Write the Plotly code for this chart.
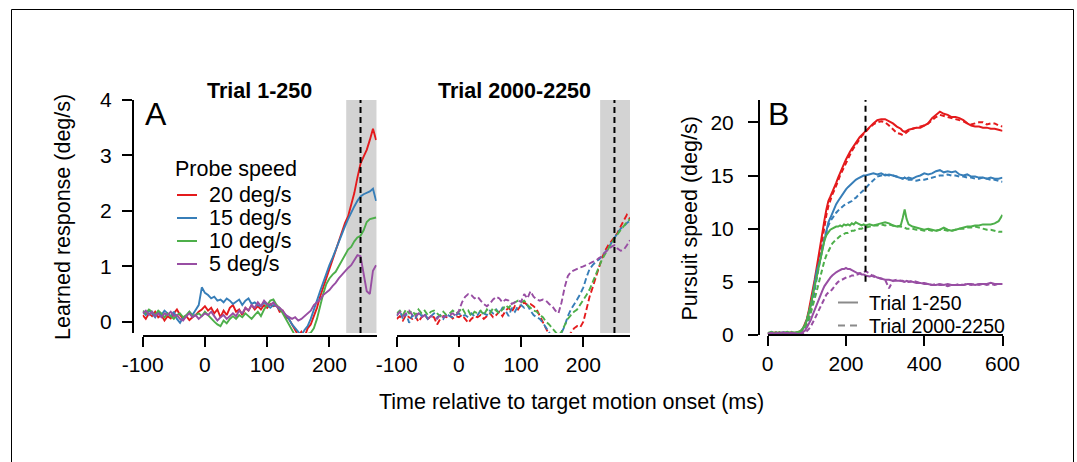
import plotly.graph_objects as go

W, H = 1077, 462
FONT = "Liberation Sans, Arial, Helvetica, sans-serif"

# ---------------- data ----------------
speeds = ["20 deg/s", "15 deg/s", "10 deg/s", "5 deg/s"]
colors = ["#E41A1C", "#377EB8", "#4DAF4A", "#984EA3"]

# Panel A time base (ms), -100 .. 275 step 5
tA = list(range(-100, 280, 5))

# Trial 1-250 (solid)
a1_red = [0.12, 0.05, 0.15, 0.10, 0.18, 0.08, 0.12, 0.02, 0.10, 0.06,
          0.15, 0.22, 0.12, 0.05, 0.10, 0.03, 0.08, 0.12, 0.18, 0.22,
          0.28, 0.20, 0.25, 0.15, 0.22, 0.08, 0.20, 0.12, 0.25, 0.30,
          0.18, 0.22, 0.12, 0.25, 0.20, 0.30, 0.22, 0.28, 0.22, 0.30,
          0.25, 0.32, 0.28, 0.30, 0.18, 0.20, 0.08, 0.05, -0.05, -0.15,
          -0.25, -0.18, -0.28, -0.12, -0.05, 0.10, 0.25, 0.45, 0.62, 0.80,
          0.95, 1.12, 1.30, 1.48, 1.62, 1.78, 1.90, 2.10, 2.32, 2.60,
          2.85, 2.98, 3.10, 3.28, 3.48, 3.28]
a1_blue = [0.18, 0.12, 0.20, 0.15, 0.08, 0.18, 0.12, 0.20, 0.15, 0.10,
           0.18, 0.05, -0.02, 0.08, 0.10, 0.18, 0.12, 0.20, 0.30, 0.62,
           0.52, 0.48, 0.42, 0.45, 0.38, 0.40, 0.35, 0.42, 0.38, 0.32,
           0.36, 0.40, 0.30, 0.38, 0.42, 0.32, 0.35, 0.30, 0.28, 0.35,
           0.30, 0.25, 0.30, 0.28, 0.22, 0.18, 0.12, 0.05, -0.05, -0.12,
           -0.18, -0.25, -0.15, -0.08, 0.05, 0.20, 0.38, 0.55, 0.72, 0.88,
           1.02, 1.15, 1.30, 1.45, 1.60, 1.72, 1.85, 1.98, 2.08, 2.18,
           2.26, 2.30, 2.32, 2.35, 2.40, 2.18]
a1_green = [0.20, 0.15, 0.22, 0.18, 0.12, 0.20, 0.15, 0.08, 0.15, 0.10,
            0.05, 0.12, 0.15, 0.08, 0.12, 0.18, 0.10, 0.12, 0.15, 0.10,
            0.18, 0.12, 0.05, 0.00, -0.05, -0.08, 0.02, -0.03, 0.05, 0.10,
            0.05, 0.12, 0.08, 0.15, 0.10, 0.05, 0.12, 0.18, 0.10, 0.22,
            0.30, 0.38, 0.40, 0.30, 0.25, 0.15, 0.05, -0.05, -0.15, -0.25,
            -0.30, -0.28, -0.30, -0.22, -0.20, -0.12, 0.05, 0.28, 0.50, 0.68,
            0.78, 0.85, 0.90, 1.00, 1.10, 1.20, 1.30, 1.35, 1.45, 1.52,
            1.55, 1.65, 1.80, 1.85, 1.86, 1.88]
a1_purple = [0.15, 0.20, 0.12, 0.18, 0.10, 0.15, 0.08, 0.15, 0.12, 0.18,
             0.10, 0.12, 0.05, 0.02, 0.10, 0.15, 0.08, 0.12, 0.05, 0.10,
             0.15, 0.12, 0.18, 0.10, 0.02, 0.08, 0.12, 0.05, 0.10, 0.15,
             0.10, 0.20, 0.15, 0.25, 0.20, 0.30, 0.25, 0.35, 0.28, 0.38,
             0.32, 0.30, 0.35, 0.28, 0.25, 0.20, 0.12, 0.08, 0.05, 0.08,
             0.02, 0.05, 0.10, 0.15, 0.20, 0.30, 0.35, 0.40, 0.48, 0.52,
             0.57, 0.64, 0.70, 0.78, 0.85, 0.92, 0.97, 1.02, 1.10, 1.20,
             1.18, 0.88, 0.55, 0.50, 0.92, 1.02]

# Trial 2000-2250 (dashed)
a2_red = [0.05, 0.10, 0.02, 0.12, 0.08, 0.05, 0.10, 0.00, 0.08, 0.12,
          0.05, 0.10, 0.08, -0.05, 0.05, 0.10, 0.08, 0.12, 0.06, 0.10,
          0.08, 0.12, 0.05, -0.02, 0.05, 0.10, 0.08, 0.12, 0.05, 0.10,
          0.15, 0.08, 0.12, 0.18, 0.10, 0.20, 0.25, 0.18, 0.28, 0.22,
          0.30, 0.35, 0.30, 0.32, 0.28, 0.22, 0.10, -0.02, -0.15, -0.25,
          -0.35, -0.40, -0.40, -0.38, -0.32, -0.25, -0.20, -0.12, -0.08, -0.10,
          0.00, 0.22, 0.45, 0.62, 0.80, 0.98, 1.15, 1.28, 1.38, 1.45,
          1.52, 1.60, 1.72, 1.82, 1.93, 1.85]
a2_blue = [0.10, 0.20, 0.05, 0.15, -0.02, 0.12, 0.05, 0.18, 0.10, 0.15,
           0.05, 0.10, 0.15, 0.08, 0.12, 0.05, 0.15, 0.10, 0.08, 0.12,
           0.15, 0.10, 0.12, 0.08, 0.15, 0.10, 0.12, 0.20, 0.15, 0.12,
           0.20, 0.15, 0.22, 0.15, 0.25, 0.20, 0.10, 0.25, 0.18, 0.28,
           0.30, 0.25, 0.30, 0.20, 0.12, 0.08, 0.05, -0.02, -0.10, -0.20,
           -0.28, -0.30, -0.25, -0.20, -0.08, 0.10, 0.22, 0.30, 0.40, 0.50,
           0.62, 0.80, 0.95, 1.02, 1.08, 1.12, 1.18, 1.25, 1.32, 1.42,
           1.52, 1.60, 1.68, 1.72, 1.78, 1.82]
a2_green = [0.15, 0.20, 0.12, 0.22, 0.15, 0.20, 0.12, 0.22, 0.15, 0.20,
            0.12, 0.18, 0.20, 0.15, 0.10, 0.18, 0.12, 0.15, 0.20, 0.15,
            0.18, 0.25, 0.15, 0.20, 0.10, 0.18, 0.15, 0.20, 0.12, 0.22,
            0.15, 0.25, 0.20, 0.15, 0.22, 0.30, 0.25, 0.32, 0.35, 0.38,
            0.35, 0.38, 0.30, 0.25, 0.20, 0.18, 0.12, 0.08, 0.00, -0.05,
            -0.12, -0.20, -0.25, -0.18, -0.05, 0.05, 0.12, 0.18, 0.22, 0.30,
            0.40, 0.48, 0.58, 0.72, 0.86, 1.00, 1.12, 1.22, 1.32, 1.40,
            1.50, 1.58, 1.66, 1.72, 1.80, 1.85]
a2_purple = [0.12, 0.18, 0.10, 0.15, 0.20, 0.12, 0.10, 0.15, 0.08, 0.12,
             0.05, 0.10, 0.08, 0.05, 0.12, 0.08, 0.10, 0.12, 0.15, 0.10,
             0.20, 0.35, 0.45, 0.50, 0.48, 0.42, 0.45, 0.38, 0.32, 0.28,
             0.33, 0.40, 0.45, 0.42, 0.35, 0.40, 0.38, 0.32, 0.35, 0.38,
             0.36, 0.50, 0.42, 0.55, 0.45, 0.40, 0.38, 0.40, 0.38, 0.32,
             0.28, 0.20, 0.15, 0.35, 0.62, 0.82, 0.90, 0.93, 0.96, 0.98,
             1.00, 1.02, 1.05, 1.08, 1.10, 1.15, 1.18, 1.25, 1.30, 1.35,
             1.38, 1.32, 1.28, 1.30, 1.38, 1.47]

# Panel B time base (ms)
tB = ([0, 10, 20, 30, 40, 50, 60, 70, 80] + list(range(85, 255, 5))
      + [260, 270, 280, 290, 300, 310, 320, 330, 340, 345, 350, 355]
      + list(range(360, 610, 10)))

b_red_solid = [0.2, 0.15, 0.25, 0.1, 0.2, 0.15, 0.25, 0.2, 0.3,
               0.4, 0.6, 1.0, 1.5, 2.3, 3.2, 4.2, 5.2, 6.3, 7.5, 8.7, 9.8, 10.8, 11.8, 12.6, 13.0, 13.4,
               13.8, 14.3, 14.8, 15.3, 15.7, 16.1, 16.5, 16.9, 17.2, 17.5, 17.8, 18.0, 18.3, 18.6, 18.8,
               19.0, 19.2,
               19.6, 19.9, 20.2, 20.3, 20.3, 20.1, 19.9, 19.6, 19.4,
               19.2, 19.1, 19.2,
               19.3, 19.4, 19.5, 19.5, 19.7, 19.9, 20.4, 20.7, 21.0, 20.8, 20.7, 20.5, 20.5, 20.4, 20.2,
               19.9, 19.7, 19.6, 19.6, 19.5, 19.5, 19.4, 19.4, 19.3, 19.2]
b_red_dash = [0.1, 0.2, 0.1, 0.25, 0.15, 0.2, 0.1, 0.2, 0.25,
              0.3, 0.45, 0.8, 1.2, 1.8, 2.6, 3.5, 4.5, 5.6, 6.8, 8.0, 9.2, 10.3, 11.3, 12.1, 12.7, 13.2,
              13.6, 14.0, 14.5, 15.0, 15.4, 15.8, 16.2, 16.6, 16.9, 17.3, 17.6, 17.9, 18.2, 18.5, 18.7,
              18.9, 19.1,
              19.5, 19.8, 20.0, 20.1, 20.0, 19.7, 19.3, 19.0, 18.9,
              18.8, 18.9, 19.1,
              19.2, 19.4, 19.5, 19.6, 19.7, 19.9, 20.2, 20.5, 20.7, 20.6, 20.5, 20.4, 20.3, 20.2, 20.1,
              19.9, 19.8, 19.9, 20.0, 20.0, 19.8, 19.9, 19.9, 19.7, 19.6]
b_blue_solid = [0.2, 0.1, 0.2, 0.15, 0.25, 0.1, 0.2, 0.15, 0.25,
                0.35, 0.6, 0.9, 1.4, 2.0, 2.8, 3.8, 4.9, 6.0, 6.6, 7.2, 8.1, 9.0, 9.9, 10.6, 11.0, 11.5,
                11.9, 12.3, 12.6, 12.9, 13.2, 13.5, 13.7, 13.9, 14.1, 14.3, 14.4, 14.6, 14.7, 14.8, 14.9,
                15.0, 15.0,
                15.1, 15.2, 15.1, 15.2, 15.0, 15.1, 15.0, 14.9, 14.8,
                14.7, 14.8, 14.7,
                14.8, 14.7, 14.9, 15.0, 15.2, 15.1, 15.2, 15.4, 15.5, 15.3, 15.4, 15.3, 15.4, 15.1, 15.0,
                15.1, 14.9, 14.9, 14.8, 14.8, 14.7, 14.8, 14.7, 14.7, 14.8]
b_blue_dash = [0.15, 0.25, 0.1, 0.2, 0.1, 0.25, 0.15, 0.2, 0.2,
               0.25, 0.4, 0.7, 1.0, 1.5, 2.2, 3.1, 4.2, 5.3, 6.4, 7.4, 8.3, 9.1, 9.8, 10.3, 10.7, 11.0,
               11.3, 11.5, 11.7, 11.9, 12.1, 12.2, 12.3, 12.4, 12.5, 12.6, 12.8, 12.9, 13.1, 13.3, 13.5,
               13.7, 13.8,
               14.2, 14.6, 14.9, 15.0, 15.1, 15.0, 15.0, 14.9, 14.8,
               14.7, 14.8, 14.7,
               14.6, 14.6, 14.5, 14.6, 14.6, 14.7, 14.8, 14.9, 15.0, 15.0, 15.1, 15.0, 15.0, 14.9, 14.9,
               14.8, 14.8, 14.7, 14.7, 14.8, 14.7, 14.6, 14.6, 14.5, 14.4]
b_green_solid = [0.2, 0.3, 0.15, 0.25, 0.2, 0.3, 0.2, 0.25, 0.3,
                 0.4, 0.6, 0.9, 1.4, 2.0, 2.8, 3.7, 4.6, 5.5, 6.4, 7.3, 8.2, 8.9, 9.4, 9.7, 9.9, 10.0,
                 10.1, 10.2, 10.2, 10.3, 10.2, 10.4, 10.3, 10.4, 10.3, 10.5, 10.4, 10.6, 10.5, 10.4, 10.3,
                 10.4, 10.3,
                 10.4, 10.3, 10.4, 10.5, 10.6, 10.5, 10.3, 10.2, 10.3,
                 11.0, 11.8, 10.9,
                 10.4, 10.2, 10.1, 10.0, 9.9, 10.0, 9.9, 9.8, 9.9, 10.1, 9.9, 9.8, 9.9, 10.0, 10.1,
                 10.2, 10.2, 10.3, 10.3, 10.4, 10.4, 10.4, 10.5, 10.7, 11.3]
b_green_dash = [0.15, 0.2, 0.3, 0.15, 0.25, 0.2, 0.3, 0.15, 0.25,
                0.3, 0.45, 0.7, 1.0, 1.4, 2.0, 2.7, 3.4, 4.1, 4.9, 5.7, 6.4, 7.0, 7.5, 7.9, 8.3, 8.6,
                8.8, 9.0, 9.2, 9.3, 9.4, 9.5, 9.6, 9.6, 9.7, 9.8, 9.8, 9.9, 9.9, 10.0, 10.0,
                10.1, 10.1,
                10.2, 10.3, 10.3, 10.4, 10.3, 10.4, 10.3, 10.2, 10.2,
                10.1, 10.1, 10.0,
                10.0, 10.0, 9.9, 9.9, 9.8, 9.9, 9.8, 9.8, 9.9, 9.9, 9.8, 9.8, 9.9, 10.0, 10.0,
                10.1, 10.1, 10.2, 10.1, 10.0, 9.9, 9.9, 9.8, 9.7, 9.7]
b_purple_solid = [0.1, 0.2, 0.1, 0.15, 0.25, 0.1, 0.2, 0.15, 0.1,
                  0.15, 0.25, 0.4, 0.7, 1.0, 1.4, 1.9, 2.4, 2.9, 3.4, 3.8, 4.2, 4.6, 4.9, 5.2, 5.4, 5.6,
                  5.8, 5.9, 6.0, 6.1, 6.2, 6.2, 6.3, 6.2, 6.2, 6.1, 6.0, 5.9, 5.8, 5.8, 5.7,
                  5.7, 5.6,
                  5.5, 5.6, 5.4, 5.3, 5.2, 5.2, 5.1, 5.1, 5.1,
                  5.1, 5.0, 5.1,
                  5.0, 5.0, 4.9, 4.9, 4.8, 4.8, 4.7, 4.7, 4.8, 4.7, 4.8, 4.7, 4.7, 4.7, 4.7,
                  4.8, 4.8, 4.7, 4.8, 4.8, 4.8, 4.9, 4.8, 4.8, 4.8]
b_purple_dash = [0.15, 0.1, 0.2, 0.1, 0.15, 0.2, 0.1, 0.15, 0.1,
                 0.1, 0.15, 0.2, 0.35, 0.55, 0.8, 1.1, 1.5, 1.9, 2.3, 2.7, 3.1, 3.4, 3.8, 4.0, 4.1, 4.3,
                 4.6, 4.8, 5.0, 5.1, 5.2, 5.3, 5.4, 5.5, 5.5, 5.6, 5.6, 5.7, 5.7, 5.8, 5.8,
                 5.9, 6.0,
                 5.8, 5.5, 5.4, 5.3, 5.2, 4.4, 5.1, 5.2, 5.1,
                 5.0, 5.0, 5.1,
                 5.0, 5.1, 5.0, 4.9, 4.9, 4.8, 4.7, 4.8, 4.7, 4.7, 4.6, 4.7, 4.7, 4.8, 4.7,
                 4.8, 4.7, 4.8, 4.7, 4.8, 4.7, 4.8, 4.7, 4.8, 4.8]

# axis ticks
xA_ticks = [-100, 0, 100, 200]
xA_labels = ["-100", "0", "100", "200"]
yA_ticks = [0, 1, 2, 3, 4]
xB_ticks = [0, 200, 400, 600]
yB_ticks = [0, 5, 10, 15, 20]
window = [227, 276]     # shaded analysis window (ms)
probe_time = 250        # dashed marker (ms)

a1_series = [a1_red, a1_blue, a1_green, a1_purple]
a2_series = [a2_red, a2_blue, a2_green, a2_purple]
b_solid = [b_red_solid, b_blue_solid, b_green_solid, b_purple_solid]
b_dash = [b_red_dash, b_blue_dash, b_green_dash, b_purple_dash]
for s in a1_series + a2_series:
    assert len(s) == len(tA)
for s in b_solid + b_dash:
    assert len(s) == len(tB), len(s)


def px(x):
    return x / W


def py(y):
    return 1 - y / H


fig = go.Figure()

for col, ys in zip(colors, a1_series):
    fig.add_trace(go.Scatter(x=tA, y=ys, mode="lines", xaxis="x", yaxis="y",
                             line=dict(color=col, width=1.9), showlegend=False, hoverinfo="skip"))
for col, ys in zip(colors, a2_series):
    fig.add_trace(go.Scatter(x=tA, y=ys, mode="lines", xaxis="x2", yaxis="y2",
                             line=dict(color=col, width=1.9, dash="6px,3px"), showlegend=False,
                             hoverinfo="skip"))
for col, ys_s, ys_d in zip(colors, b_solid, b_dash):
    fig.add_trace(go.Scatter(x=tB, y=ys_d, mode="lines", xaxis="x3", yaxis="y3",
                             line=dict(color=col, width=2, dash="5px,3px"), showlegend=False,
                             hoverinfo="skip"))
    fig.add_trace(go.Scatter(x=tB, y=ys_s, mode="lines", xaxis="x3", yaxis="y3",
                             line=dict(color=col, width=2), showlegend=False, hoverinfo="skip"))

axis_common = dict(showgrid=False, zeroline=False, showline=True, linecolor="black", linewidth=2,
                   ticks="outside", ticklen=10, tickwidth=2, tickcolor="black", automargin=False,
                   tickfont=dict(family=FONT, size=21, color="black"))

yA_dom = [py(333), py(100)]
yA_range = [-0.204, 4.0]

fig.update_layout(
    template="none",
    width=W, height=H, autosize=False, margin=dict(l=0, r=0, t=0, b=0, pad=0),
    paper_bgcolor="white", plot_bgcolor="rgba(0,0,0,0)", showlegend=False,
    font=dict(family=FONT, size=21, color="black"),
    xaxis=dict(domain=[px(142.7), px(376.7)], range=[-100, 276], anchor="free", position=py(336),
               tickvals=xA_ticks, ticktext=xA_labels, **axis_common),
    yaxis=dict(domain=yA_dom, range=yA_range, anchor="free", position=px(133),
               tickvals=yA_ticks, ticktext=[str(v) for v in yA_ticks], ticklabelstandoff=6,
               **axis_common),
    xaxis2=dict(domain=[px(396.7), px(630)], range=[-100, 275], anchor="free", position=py(336),
                tickvals=xA_ticks, ticktext=xA_labels, **axis_common),
    yaxis2=dict(domain=yA_dom, range=yA_range, anchor="x2", visible=False, automargin=False),
    xaxis3=dict(domain=[px(767.7), px(1002.5)], range=[0, 600], anchor="free", position=py(335),
                tickvals=xB_ticks, ticktext=[str(v) for v in xB_ticks], **axis_common),
    yaxis3=dict(domain=[py(335), py(100)], range=[0, 22.1], anchor="free", position=px(759),
                tickvals=yB_ticks, ticktext=[str(v) for v in yB_ticks], ticklabelstandoff=10,
                **axis_common),
)

shapes = []
# shaded windows and probe markers in panel A
for xa, ya in (("x", "y"), ("x2", "y2")):
    shapes.append(dict(type="rect", xref=xa, yref=ya + " domain", x0=window[0], x1=window[1],
                       y0=0, y1=1, fillcolor="#D3D3D3", line=dict(width=0), layer="below"))
    shapes.append(dict(type="line", xref=xa, yref=ya + " domain", x0=probe_time, x1=probe_time,
                       y0=0, y1=1, line=dict(color="black", width=2, dash="6px,4px"), layer="above"))
shapes.append(dict(type="line", xref="x3", yref="y3", x0=probe_time, x1=probe_time, y0=5, y1=22.1,
                   line=dict(color="black", width=2, dash="6px,4px"), layer="above"))
# outer frame
shapes.append(dict(type="rect", xref="paper", yref="paper", x0=px(11.5), x1=px(1073.5),
                   y0=-0.1, y1=py(9.5), line=dict(color="black", width=1), fillcolor="rgba(0,0,0,0)"))

annotations = []
# legend of panel A
annotations.append(dict(text="Probe speed", x=px(173), y=py(169), xref="paper", yref="paper",
                        xanchor="left", yanchor="middle", showarrow=False, font=dict(size=21.5)))
leg_y = [195, 218, 241, 264]
for name, col, yy in zip(speeds, colors, leg_y):
    shapes.append(dict(type="line", xref="paper", yref="paper", x0=px(177), x1=px(197),
                       y0=py(yy), y1=py(yy), line=dict(color=col, width=2)))
    annotations.append(dict(text=name, x=px(207), y=py(yy), xref="paper", yref="paper",
                            xanchor="left", yanchor="middle", showarrow=False, font=dict(size=21.5)))
# legend of panel B
leg_b = [("Trial 1-250", "solid", 302.5), ("Trial 2000-2250", "7px,5px", 325.5)]
for name, dash, yy in leg_b:
    shapes.append(dict(type="line", xref="paper", yref="paper", x0=px(838), x1=px(858),
                       y0=py(yy), y1=py(yy), line=dict(color="#8a8a8a", width=2, dash=dash)))
    annotations.append(dict(text=name, x=px(868), y=py(yy), xref="paper", yref="paper",
                            xanchor="left", yanchor="middle", showarrow=False,
                            font=dict(size=19.5), borderpad=0))

# titles and labels
annotations += [
    dict(text="<b>Trial 1-250</b>", x=px(259.5), y=py(90.5), xref="paper", yref="paper",
         xanchor="center", yanchor="middle", showarrow=False, font=dict(size=21.5)),
    dict(text="<b>Trial 2000-2250</b>", x=px(514), y=py(90.5), xref="paper", yref="paper",
         xanchor="center", yanchor="middle", showarrow=False, font=dict(size=21.5)),
    dict(text="A", x=px(156), y=py(113.5), xref="paper", yref="paper",
         xanchor="center", yanchor="middle", showarrow=False, font=dict(size=32)),
    dict(text="B", x=px(778), y=py(114), xref="paper", yref="paper",
         xanchor="center", yanchor="middle", showarrow=False, font=dict(size=32)),
    dict(text="Learned response (deg/s)", x=px(63), y=py(217), xref="paper", yref="paper",
         xanchor="center", yanchor="middle", textangle=-90, showarrow=False, font=dict(size=21.5)),
    dict(text="Pursuit speed (deg/s)", x=px(689), y=py(218.5), xref="paper", yref="paper",
         xanchor="center", yanchor="middle", textangle=-90, showarrow=False, font=dict(size=21.5)),
    dict(text="Time relative to target motion onset (ms)", x=px(571), y=py(402), xref="paper",
         yref="paper", xanchor="center", yanchor="middle", showarrow=False, font=dict(size=21.5)),
]

fig.update_layout(shapes=shapes, annotations=annotations)
fig.write_html("out.html")
